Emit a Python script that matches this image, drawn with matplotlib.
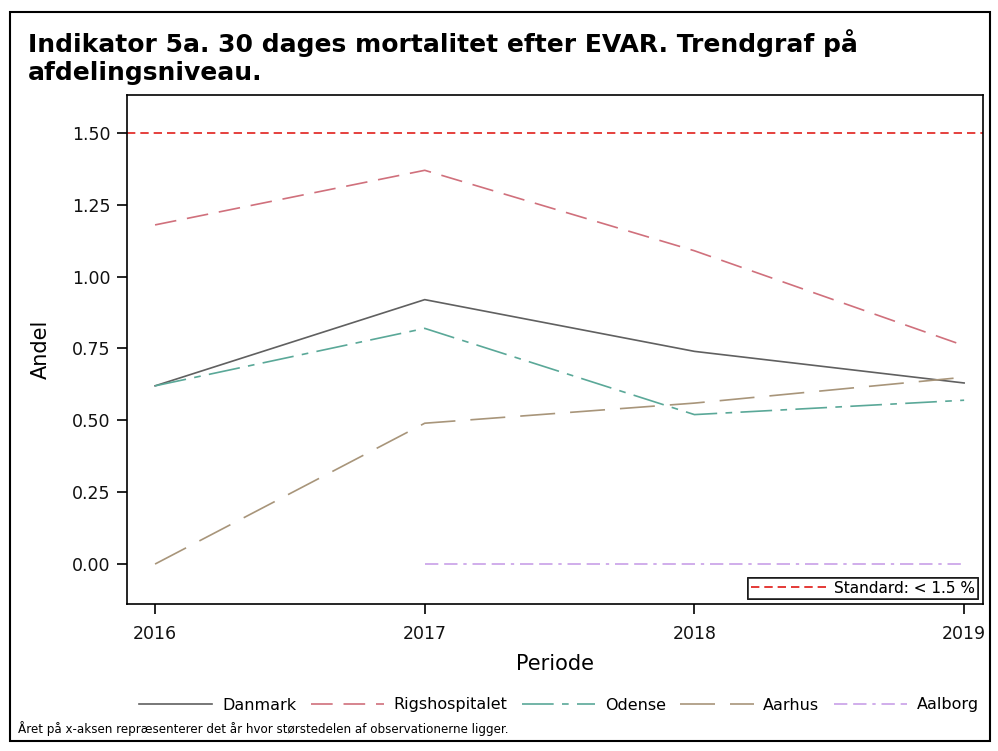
import matplotlib
matplotlib.use("Agg")
import matplotlib.pyplot as plt
from matplotlib.patches import Rectangle
from matplotlib.lines import Line2D

years = [2016, 2017, 2018, 2019]
danmark = [0.62, 0.92, 0.74, 0.63]
rigshospitalet = [1.18, 1.37, 1.09, 0.76]
odense = [0.62, 0.82, 0.52, 0.57]
aarhus = [0.00, 0.49, 0.56, 0.65]
aalborg_years = [2017, 2018, 2019]
aalborg = [0.00, 0.00, 0.00]
standard = 1.5
yticks = [0.00, 0.25, 0.50, 0.75, 1.00, 1.25, 1.50]

W, H = 998, 751
fig = plt.figure(figsize=(W / 100, H / 100), dpi=100)
fig.patches.append(Rectangle((10 / W, 1 - 741 / H), 980 / W, 729 / H, transform=fig.transFigure,
                             fill=False, edgecolor="black", linewidth=1.5))

ax = fig.add_axes([127 / W, 1 - 604 / H, (983 - 127) / W, (604 - 95) / H])

lw = 1.2
std_ls = (0, (5, 3))
ax.axhline(standard, color="#e0201c", linestyle=std_ls, linewidth=lw)
ax.plot(years, danmark, color="#606060", linestyle="-", linewidth=lw, label="Danmark")
ax.plot(years, rigshospitalet, color="#d0707c", linestyle=(0, (13, 6.5)), linewidth=lw, label="Rigshospitalet")
ax.plot(years, odense, color="#5aa898", linestyle=(0, (19, 5, 4, 5)), linewidth=lw, label="Odense")
ax.plot(years, aarhus, color="#a8957a", linestyle=(0, (21, 9)), linewidth=lw, label="Aarhus")
ax.plot(aalborg_years, aalborg, color="#c8a0e8", linestyle=(0, (8, 3.5, 8, 3.5, 2, 3.5)), linewidth=lw, label="Aalborg")

ax.set_xlim(2015.896, 2019.07)
ax.set_ylim(-0.139, 1.632)
ax.set_xticks(years)
ax.set_xticklabels([str(y) for y in years])
ax.set_yticks(yticks)
ax.set_yticklabels([f"{v:.2f}" for v in yticks])
ax.tick_params(labelsize=12.5, length=7, width=1.2, colors="black", labelcolor="#111111")
ax.tick_params(axis="x", pad=8)
ax.tick_params(axis="y", pad=5)
for s in ax.spines.values():
    s.set_linewidth(1.2)
ax.set_xlabel("Periode", fontsize=15, labelpad=8)
ax.set_ylabel("Andel", fontsize=15, labelpad=15)

std_handle = [Line2D([], [], color="#e0201c", linestyle=std_ls, linewidth=lw)]
leg_std = ax.legend(std_handle, ["Standard: < 1.5 %"], loc="lower right", fontsize=11,
                    frameon=True, fancybox=False, edgecolor="black", handlelength=4.9,
                    borderpad=0.2, borderaxespad=0.35, handletextpad=0.5)
leg_std.get_frame().set_linewidth(1.2)
ax.add_artist(leg_std)

handles, labels = ax.get_legend_handles_labels()
fig.legend(handles, labels, loc="center", bbox_to_anchor=(559 / W, 1 - 705 / H), ncol=5,
           frameon=False, fontsize=11.5,
           handlelength=4.6, columnspacing=0.9, handletextpad=0.6)

fig.text(28 / W, 1 - 57 / H, "Indikator 5a. 30 dages mortalitet efter EVAR. Trendgraf på\nafdelingsniveau.",
         fontsize=18, fontweight="bold", va="center", ha="left", linespacing=1.18)
fig.text(18 / W, 1 - 729 / H, "Året på x-aksen repræsenterer det år hvor størstedelen af observationerne ligger.",
         fontsize=8.6, va="center", ha="left")

fig.savefig("out.png", dpi=100)
